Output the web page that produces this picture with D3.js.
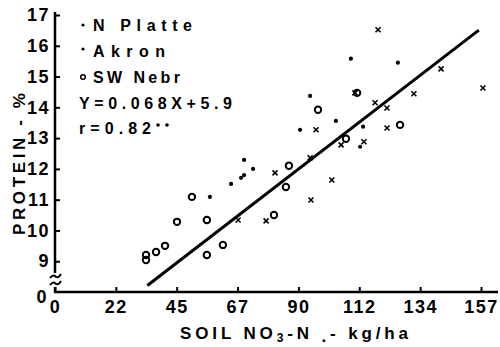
<!DOCTYPE html>
<html><head><meta charset="utf-8">
<script src="https://cdn.jsdelivr.net/npm/d3@7"></script>
<style>
html,body{margin:0;padding:0;background:#fff;}
svg{display:block;}
text{font-family:"Liberation Sans",Arial,sans-serif;font-weight:bold;fill:#000;}
</style></head>
<body>
<script>
// ---- data ----
const nPlatteX = [57.0, 64.8, 68.5, 69.6, 69.6, 72.9, 90.2, 93.9, 103.4, 108.9, 112.3, 113.4, 126.2];
const nPlatteY = [11.09, 11.51, 11.71, 11.80, 12.29, 12.00, 13.27, 14.37, 13.56, 15.58, 12.72, 13.37, 15.45];
const akronX = [67.4, 77.7, 81.0, 93.9, 94.2, 96.1, 101.9, 105.3, 110.4, 113.7, 117.8, 118.9, 122.2, 122.2, 132.1, 142.1, 157.5];
const akronY = [10.34, 10.31, 11.87, 12.36, 10.99, 13.27, 11.64, 12.78, 14.47, 12.88, 14.15, 16.52, 13.98, 13.33, 14.44, 15.25, 14.63];
const swNebrX = [33.5, 33.5, 37.2, 40.5, 44.9, 50.4, 55.9, 55.9, 61.8, 80.6, 85.0, 86.1, 96.8, 107.1, 111.2, 127.0];
const swNebrY = [9.20, 9.04, 9.30, 9.50, 10.28, 11.09, 10.34, 9.20, 9.53, 10.50, 11.41, 12.10, 13.92, 12.98, 14.47, 13.43];
const fitSlope = 0.068, fitIntercept = 5.9, fitRangeX = [34, 156];
const xTickValues = [0, 22.4, 44.8, 67.2, 89.6, 112, 134.4, 156.8];
const xTickLabels = ["0", "22", "45", "67", "90", "112", "134", "157"];
const yTickValues = [8, 9, 10, 11, 12, 13, 14, 15, 16, 17];
const yTickLabels = ["0", "9", "10", "11", "12", "13", "14", "15", "16", "17"];
const legendLabels = ["N Platte", "Akron", "SW Nebr"];
const equationText = "Y=0.068X+5.9";
const rText = "r=0.82";

const W = 500, H = 347;
const svg = d3.select("body").append("svg").attr("width", W).attr("height", H);
const x = d3.scaleLinear().domain([0, 156.8]).range([55, 481]);
const y = d3.scaleLinear().domain([8, 17]).range([292, 15]);

// axes
const xAxis = d3.axisBottom(x).tickValues(xTickValues)
  .tickFormat((d, i) => xTickLabels[i]).tickSizeInner(-5).tickSizeOuter(0).tickPadding(8);
const gx = svg.append("g").attr("transform", "translate(0,292)").call(xAxis);
gx.select(".domain").remove();
gx.selectAll(".tick line").attr("stroke", "#000").attr("stroke-width", 2);
gx.selectAll(".tick text").attr("font-size", 18).attr("letter-spacing", 1.5)
  .attr("font-family", "Liberation Sans, Arial, sans-serif").attr("font-weight", "bold");

const yAxis = d3.axisLeft(y).tickValues(yTickValues)
  .tickFormat((d, i) => yTickLabels[i]).tickSizeInner(-5).tickSizeOuter(0).tickPadding(5);
const gy = svg.append("g").attr("transform", "translate(55,0)").call(yAxis);
gy.select(".domain").remove();
gy.selectAll(".tick line").attr("stroke", "#000").attr("stroke-width", 2)
  .attr("opacity", d => d === 8 ? 0 : 1);
gy.selectAll(".tick text").attr("font-size", 18).attr("letter-spacing", 1.5)
  .attr("font-family", "Liberation Sans, Arial, sans-serif").attr("font-weight", "bold")
  .attr("dy", d => d === 8 ? "0.6em" : "0.32em")
  .attr("x", d => d === 8 ? -7 : -5);

// axis lines
svg.append("line").attr("x1", 54).attr("x2", 498).attr("y1", 292).attr("y2", 292)
  .attr("stroke", "#000").attr("stroke-width", 2.5);
svg.append("line").attr("x1", 55).attr("x2", 55).attr("y1", 12).attr("y2", 273)
  .attr("stroke", "#000").attr("stroke-width", 2.5);
svg.append("line").attr("x1", 55).attr("x2", 55).attr("y1", 287).attr("y2", 292)
  .attr("stroke", "#000").attr("stroke-width", 2.5);
// axis break marks
[276, 283].forEach(yy => {
  svg.append("path").attr("d", `M50,${yy+2} q3,-4 5.5,-1.5 t5.5,-2.5`)
    .attr("fill", "none").attr("stroke", "#000").attr("stroke-width", 2);
});

// regression line
const fit = fitRangeX.map(v => [v, fitSlope * v + fitIntercept]);
svg.append("path").datum(fit)
  .attr("d", d3.line().x(d => x(d[0])).y(d => y(d[1])))
  .attr("stroke", "#000").attr("stroke-width", 3).attr("fill", "none");

// points
const sw = swNebrX.map((v, i) => [v, swNebrY[i]]);
svg.append("g").selectAll("circle").data(sw).join("circle")
  .attr("cx", d => x(d[0])).attr("cy", d => y(d[1])).attr("r", 3.2)
  .attr("fill", "none").attr("stroke", "#000").attr("stroke-width", 2);
const np = nPlatteX.map((v, i) => [v, nPlatteY[i]]);
svg.append("g").selectAll("circle").data(np).join("circle")
  .attr("cx", d => x(d[0])).attr("cy", d => y(d[1])).attr("r", 2.1).attr("fill", "#000");
const ak = akronX.map((v, i) => [v, akronY[i]]);
svg.append("g").selectAll("path").data(ak).join("path")
  .attr("d", d => { const cx = x(d[0]), cy = y(d[1]); return `M${cx-2.5},${cy-2.5}L${cx+2.5},${cy+2.5}M${cx-2.5},${cy+2.5}L${cx+2.5},${cy-2.5}`; })
  .attr("stroke", "#000").attr("stroke-width", 1.6).attr("fill", "none");

// legend
const legY = [25, 51, 77];
svg.append("circle").attr("cx", 83).attr("cy", 25).attr("r", 1.6).attr("fill", "#000");
svg.append("circle").attr("cx", 83).attr("cy", 49).attr("r", 1.6).attr("fill", "#000");
svg.append("circle").attr("cx", 83).attr("cy", 77).attr("r", 2.3).attr("fill", "none").attr("stroke", "#000").attr("stroke-width", 1.5);
const legW = [99, 72, 87];
legendLabels.forEach((t, i) => {
  svg.append("text").attr("x", 93).attr("y", legY[i] + 6).attr("font-size", 16)
    .attr("textLength", legW[i]).attr("lengthAdjust", "spacing").text(t);
});
svg.append("text").attr("x", 79).attr("y", 109).attr("font-size", 16)
  .attr("textLength", 153).attr("lengthAdjust", "spacing").text(equationText);
svg.append("text").attr("x", 79).attr("y", 134).attr("font-size", 16)
  .attr("textLength", 72).attr("lengthAdjust", "spacing").text(rText);
svg.append("circle").attr("cx", 158).attr("cy", 125).attr("r", 1.8).attr("fill", "#000");
svg.append("circle").attr("cx", 167).attr("cy", 125).attr("r", 1.8).attr("fill", "#000");

// axis titles
const xt = svg.append("text").attr("x", 180).attr("y", 339).attr("font-size", 17)
  .attr("textLength", 228).attr("lengthAdjust", "spacing");
xt.append("tspan").text("SOIL NO");
xt.append("tspan").attr("font-size", 12).attr("dy", 3).text("3");
xt.append("tspan").attr("dy", -3).text("-N ");
xt.append("tspan").attr("dy", 3).text(".");
xt.append("tspan").attr("dy", -3).text("- kg/ha");

svg.append("text").attr("transform", "translate(25,164) rotate(-90)")
  .attr("text-anchor", "middle").attr("font-size", 17)
  .attr("textLength", 142).attr("lengthAdjust", "spacing").text("PROTEIN - %");
</script>
</body></html>
